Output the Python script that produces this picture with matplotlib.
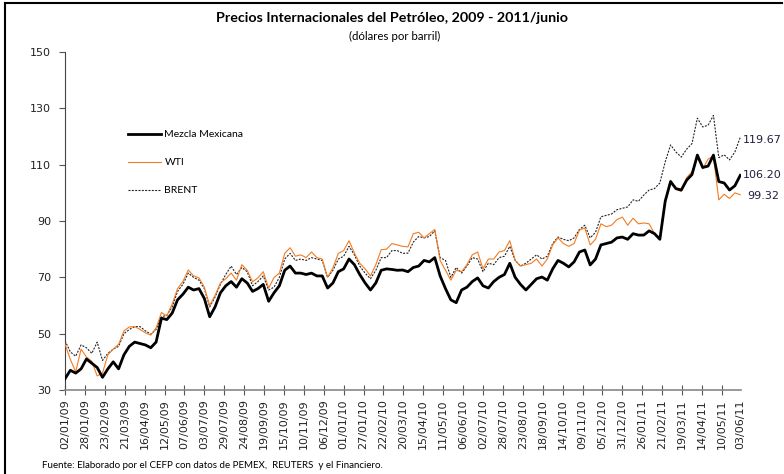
import matplotlib
matplotlib.use("Agg")
import matplotlib.pyplot as plt
from matplotlib.lines import Line2D
import pandas as pd

# weekly closing values (fridays)
fechas = pd.date_range("2009-01-02", "2011-06-03", freq="7D")

mezcla = [34.0, 37.0, 36.0, 37.5, 41.0, 39.5, 38.0, 34.5, 37.5, 40.0,
          37.5, 42.5, 45.5, 47.0, 46.5, 46.0, 45.0, 47.0, 55.5, 55.0,
          57.3, 62.0, 64.0, 66.5, 65.5, 66.0, 62.5, 56.0, 59.5, 64.5,
          67.0, 68.5, 66.5, 69.5, 68.0, 65.0, 66.0, 67.5, 61.5, 64.5,
          67.0, 72.5, 74.0, 71.5, 71.5, 71.0, 71.5, 70.5, 70.5, 66.2,
          68.0, 72.0, 73.0, 76.5, 74.5, 71.0, 68.0, 65.5, 68.0, 72.5,
          73.0, 72.8, 72.5, 72.6, 72.0, 73.5, 74.0, 76.0, 75.5, 77.0,
          70.5, 66.0, 62.0, 61.0, 65.5, 66.5, 68.5, 69.8, 67.0, 66.2,
          68.5, 70.0, 71.0, 75.0, 70.0, 67.5, 65.5, 67.5, 69.5, 70.1,
          69.0, 73.0, 76.0, 75.0, 73.7, 75.5, 79.0, 79.7, 74.4, 76.5,
          81.5, 82.0, 82.5, 84.0, 84.3, 83.5, 85.5, 85.0, 85.0, 86.5,
          85.5, 83.5, 97.0, 104.0, 101.5, 101.0, 104.5, 106.5, 113.4, 109.0,
          109.5, 113.4, 104.0, 103.5, 101.0, 102.5, 106.20]

wti = [46.3, 40.8, 36.5, 44.5, 41.7, 40.2, 35.0, 36.0, 42.5, 44.5,
       46.2, 51.0, 52.4, 52.5, 51.5, 50.3, 49.5, 52.0, 57.5, 56.3,
       60.5, 66.0, 68.5, 72.6, 70.5, 69.8, 66.5, 60.0, 63.6, 68.0,
       69.5, 71.5, 69.0, 74.5, 72.5, 68.4, 69.8, 72.0, 66.2, 69.9,
       71.5, 78.5, 80.5, 77.5, 78.0, 77.0, 79.0, 77.0, 76.5, 70.0,
       73.4, 78.5, 79.5, 83.0, 78.6, 75.0, 73.0, 70.5, 74.5, 79.8,
       80.0, 82.0, 81.5, 81.0, 80.8, 85.5, 86.0, 84.0, 85.5, 87.0,
       76.0, 72.5, 69.0, 72.5, 72.0, 74.5, 78.0, 79.0, 73.0, 76.5,
       76.5, 79.0, 79.5, 83.0, 76.0, 74.0, 74.5, 75.0, 76.5, 74.0,
       76.5, 81.5, 84.0, 82.0, 81.0, 82.0, 86.8, 87.5, 81.5, 83.5,
       89.0, 88.0, 88.5, 90.5, 91.4, 88.5, 91.0, 89.0, 89.3, 89.0,
       85.6, 84.0, 97.8, 104.5, 101.2, 100.5, 105.4, 107.5, 112.5, 108.5,
       112.0, 113.0, 97.5, 99.5, 98.0, 100.0, 99.32]

brent = [47.5, 43.5, 42.0, 46.0, 45.0, 43.0, 47.0, 40.5, 43.0, 44.5,
         45.5, 50.0, 51.5, 52.5, 52.5, 51.0, 49.8, 51.5, 56.0, 56.5,
         59.5, 65.0, 67.5, 71.5, 70.0, 69.0, 66.0, 59.5, 63.0, 67.5,
         71.0, 74.0, 71.0, 73.5, 72.0, 67.0, 68.5, 70.5, 65.5, 66.5,
         70.0, 76.5, 78.5, 76.0, 76.5, 76.0, 77.0, 76.5, 76.0, 70.0,
         72.5, 76.5, 77.5, 81.0, 78.0, 74.0, 71.5, 69.5, 72.5, 77.0,
         77.0, 79.5, 79.5, 78.5, 78.6, 82.5, 84.5, 84.0, 84.5, 86.5,
         77.0, 76.0, 70.0, 73.5, 71.5, 74.0, 77.0, 76.5, 72.0, 75.0,
         74.5, 77.0, 77.5, 81.0, 76.0, 74.0, 75.0, 76.5, 78.0, 76.5,
         77.5, 82.0, 84.3, 83.5, 83.0, 84.0, 87.0, 88.5, 84.0, 86.0,
         91.5, 92.0, 92.5, 94.0, 94.5, 95.0, 97.5, 97.0, 99.2, 101.0,
         101.5, 103.5, 111.0, 117.0, 114.5, 112.7, 115.5, 117.5, 126.5, 123.4,
         124.0, 127.5, 112.5, 113.5, 111.7, 114.5, 119.67]

etiquetas_x = ["02/01/09", "28/01/09", "23/02/09", "21/03/09", "16/04/09", "12/05/09",
               "07/06/09", "03/07/09", "29/07/09", "24/08/09", "19/09/09", "15/10/09",
               "10/11/09", "06/12/09", "01/01/10", "27/01/10", "22/02/10", "20/03/10",
               "15/04/10", "11/05/10", "06/06/10", "02/07/10", "28/07/10", "23/08/10",
               "18/09/10", "14/10/10", "09/11/10", "05/12/10", "31/12/10", "26/01/11",
               "21/02/11", "19/03/11", "14/04/11", "10/05/11", "03/06/11"]

texto_font = ["Lato", "DejaVu Sans"]

fig = plt.figure(figsize=(7.84, 4.74), dpi=100)
ax = fig.add_axes([65 / 784, 1 - 390 / 474, (741 - 65) / 784, (390 - 52) / 474])

ax.plot(fechas, brent, color="#222222", lw=0.8, linestyle=(0, (1.8, 1.2)), label="BRENT", zorder=2)
ax.plot(fechas, wti, color="#F47B20", lw=0.8, label="WTI", zorder=3)
ax.plot(fechas, mezcla, color="black", lw=2.0, label="Mezcla Mexicana", zorder=4)

# axes
ax.set_ylim(30, 150)
ax.set_yticks(range(30, 151, 20))
ax.set_xlim(fechas[0], fechas[-1] + pd.Timedelta(days=1))
ticks_x = pd.to_datetime(etiquetas_x, format="%d/%m/%y")
ax.set_xticks(ticks_x)
ax.set_xticklabels(etiquetas_x, rotation=90, fontsize=8, color="#222222")
ax.tick_params(axis="x", direction="inout", length=7, width=0.8, color="#555555", pad=3)
ax.tick_params(axis="y", direction="out", length=4, width=0.8, color="#555555", labelsize=8,
               labelcolor="#222222", pad=6)
ax.xaxis.get_major_ticks()[-1].tick1line.set_visible(False)
for s in ["top", "right"]:
    ax.spines[s].set_visible(False)
ax.spines["left"].set_color("#444444")
ax.spines["bottom"].set_color("#888888")
ax.spines["bottom"].set_linewidth(1.2)

# end values
ax.annotate("119.67", xy=(fechas[-1], brent[-1]), xytext=(2, -2), textcoords="offset points",
            va="center", fontsize=8, color="#1f1f3f")
ax.annotate("106.20", xy=(fechas[-1], mezcla[-1]), xytext=(2, 0), textcoords="offset points",
            va="center", fontsize=8, color="#1f1f3f")
ax.annotate("99.32", xy=(fechas[-1], wti[-1]), xytext=(5, -1), textcoords="offset points",
            va="center", fontsize=8, color="#1f1f3f")

# legend
handles, labels = ax.get_legend_handles_labels()
ax.legend(handles[::-1], labels[::-1], loc="upper left", bbox_to_anchor=(128 / 784, 1 - 130 / 474),
          bbox_transform=fig.transFigure, frameon=False, borderpad=0, borderaxespad=0,
          handlelength=3.2, handletextpad=0.3, labelspacing=1.8,
          prop={"family": texto_font, "size": 7.5})

# titles and source
fig.text(0.5, 1 - 18 / 474, "Precios Internacionales del Petróleo, 2009 - 2011/junio",
         ha="center", va="center", fontsize=10.3, weight="bold", family=texto_font)
fig.text(395 / 784, 1 - 36 / 474, "(dólares por barril)", ha="center", va="center",
         fontsize=8.3, family=texto_font)
fig.text(42 / 784, 1 - 465 / 474,
         "Fuente: Elaborado por el CEFP con datos de PEMEX,  REUTERS  y el Financiero.",
         ha="left", va="center", fontsize=7, family=texto_font)

# outer frame (left and top)
fig.add_artist(Line2D([5 / 784, 5 / 784], [0, 1 - 3 / 474], transform=fig.transFigure, color="black", lw=1.5))
fig.add_artist(Line2D([5 / 784, 782 / 784], [1 - 3 / 474, 1 - 3 / 474], transform=fig.transFigure,
                      color="black", lw=1.5))

fig.savefig("out.png", dpi=100)
